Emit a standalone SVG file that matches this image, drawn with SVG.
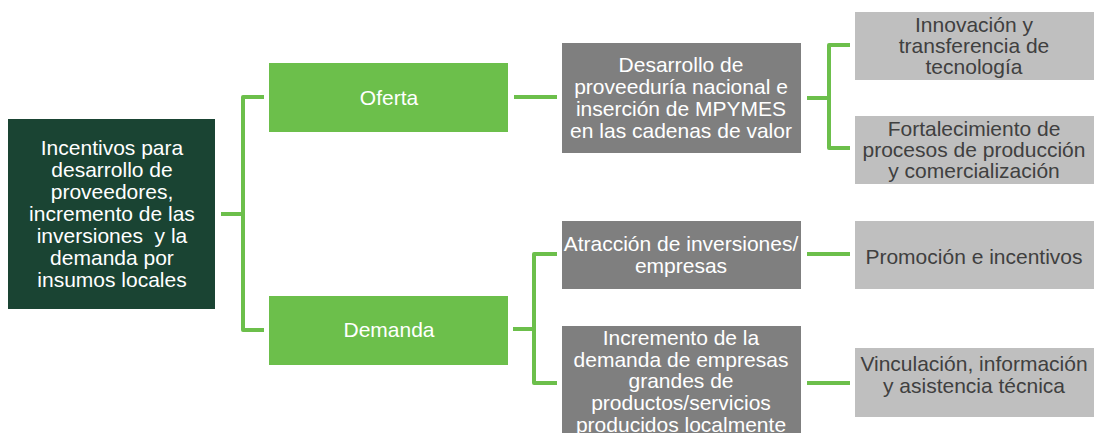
<svg xmlns="http://www.w3.org/2000/svg" width="1094" height="433" viewBox="0 0 1094 433">
<style>
text{font-family:"Liberation Sans",Arial,sans-serif;font-size:21px;text-anchor:middle}
.w{fill:#ffffff}
.d{fill:#404040}
.root{fill:#1a4433}
.grn{fill:#6cbf4b}
.gry{fill:#7f7f7f}
.lgt{fill:#bfbfbf}
.c{fill:none;stroke:#6cbf4b;stroke-width:4;stroke-linejoin:round}
</style>
<rect width="1094" height="433" fill="#ffffff"/>
<g id="connectors">
<path class="c" d="M221 214H243M264 97H243V330H264"/>
<path class="c" d="M514 97H557"/>
<path class="c" d="M807 98H829M850 45H829V148H850"/>
<path class="c" d="M513 329H534M557 254H534V383H557"/>
<path class="c" d="M807 254H850"/>
<path class="c" d="M807 383H850"/>
</g>
<g id="root">
<rect class="root" x="8" y="119" width="207" height="190"/>
<text class="w"><tspan x="112" y="155">Incentivos para</tspan><tspan x="112" y="177">desarrollo de</tspan><tspan x="112" y="199">proveedores,</tspan><tspan x="112" y="221">incremento de las</tspan><tspan x="112" y="243" xml:space="preserve">inversiones  y la</tspan><tspan x="112" y="265">demanda por</tspan><tspan x="112" y="287">insumos locales</tspan></text>
</g>
<g id="oferta">
<rect class="grn" x="269" y="63" width="239" height="69"/>
<text class="w" x="389" y="105">Oferta</text>
</g>
<g id="demanda">
<rect class="grn" x="269" y="296" width="239" height="69"/>
<text class="w" x="389" y="337">Demanda</text>
</g>
<g id="desarrollo">
<rect class="gry" x="562" y="43" width="239" height="110"/>
<text class="w"><tspan x="681" y="72">Desarrollo de</tspan><tspan x="681" y="94">proveeduría nacional e</tspan><tspan x="681" y="116">inserción de MPYMES</tspan><tspan x="681" y="138">en las cadenas de valor</tspan></text>
</g>
<g id="atraccion">
<rect class="gry" x="562" y="221" width="239" height="68"/>
<text class="w"><tspan x="681" y="251">Atracción de inversiones/</tspan><tspan x="681" y="273">empresas</tspan></text>
</g>
<g id="incremento">
<rect class="gry" x="562" y="326" width="239" height="120"/>
<text class="w"><tspan x="681" y="345">Incremento de la</tspan><tspan x="681" y="367">demanda de empresas</tspan><tspan x="681" y="388">grandes de</tspan><tspan x="681" y="410">productos/servicios</tspan><tspan x="681" y="432">producidos localmente</tspan></text>
</g>
<g id="innovacion">
<rect class="lgt" x="855" y="12" width="239" height="68"/>
<text class="d"><tspan x="974" y="32">Innovación y</tspan><tspan x="974" y="53">transferencia de</tspan><tspan x="974" y="74">tecnología</tspan></text>
</g>
<g id="fortalecimiento">
<rect class="lgt" x="855" y="116" width="239" height="68"/>
<text class="d"><tspan x="974" y="136">Fortalecimiento de</tspan><tspan x="974" y="157">procesos de producción</tspan><tspan x="974" y="178">y comercialización</tspan></text>
</g>
<g id="promocion">
<rect class="lgt" x="855" y="221" width="239" height="68"/>
<text class="d" x="974" y="264">Promoción e incentivos</text>
</g>
<g id="vinculacion">
<rect class="lgt" x="855" y="348" width="239" height="69"/>
<text class="d"><tspan x="974" y="371">Vinculación, información</tspan><tspan x="974" y="393">y asistencia técnica</tspan></text>
</g>
</svg>
